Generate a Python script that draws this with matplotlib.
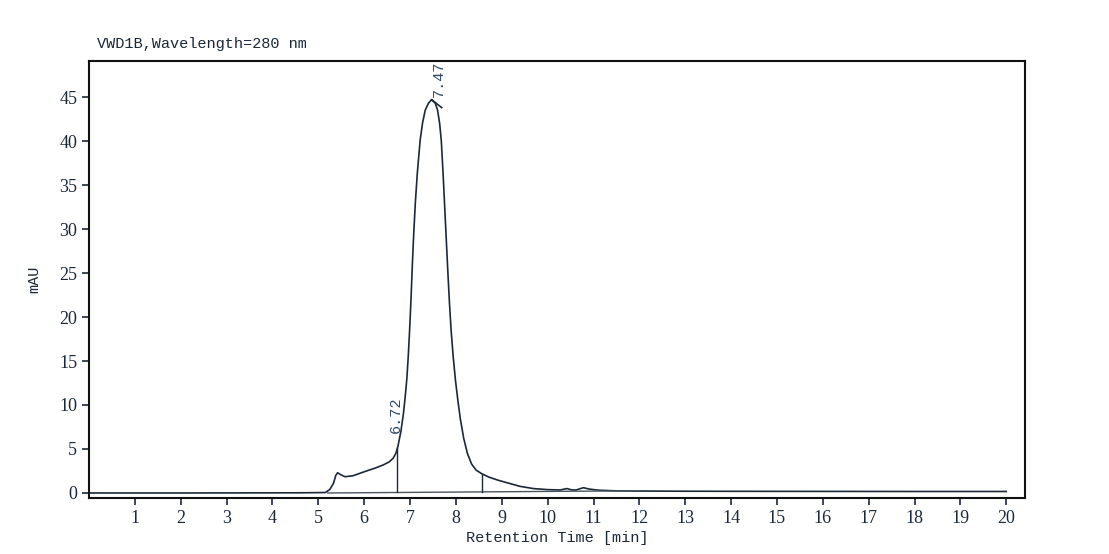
import matplotlib
matplotlib.use("Agg")
import matplotlib.pyplot as plt

# chromatogram trace (min, mAU)
t = [0.0, 2.0, 4.6, 5.15, 5.25, 5.33, 5.38, 5.42, 5.48, 5.58, 5.75, 6.05, 6.25,
     6.42, 6.55, 6.63, 6.69, 6.735, 6.80, 6.855, 6.895, 6.93, 6.96, 6.99,
     7.02, 7.05, 7.08, 7.115, 7.16, 7.22, 7.27, 7.33, 7.40, 7.47, 7.55, 7.60,
     7.645, 7.68, 7.72, 7.755, 7.79, 7.825, 7.86, 7.895, 7.94, 7.99, 8.045,
     8.10, 8.17, 8.25, 8.34, 8.44, 8.56, 8.72, 8.92, 9.11, 9.40, 9.69, 10.00,
     10.27, 10.42, 10.52, 10.62, 10.78, 10.90, 11.10, 11.50, 12.00, 13.00,
     14.00, 16.00, 18.00, 20.00]
mau = [0.0, 0.0, 0.02, 0.05, 0.4, 1.1, 2.0, 2.3, 2.1, 1.85, 1.95, 2.5, 2.85,
       3.2, 3.55, 3.95, 4.5, 5.3, 7.0, 9.0, 11.0, 13.0, 15.5, 18.5,
       22.0, 26.0, 29.5, 33.0, 36.5, 40.1, 42.0, 43.5, 44.3, 44.7, 44.3, 43.5,
       42.0, 40.1, 36.3, 32.5, 28.75, 25.0, 21.5, 18.5, 15.5, 12.8, 10.4,
       8.3, 6.2, 4.5, 3.3, 2.6, 2.2, 1.8, 1.45, 1.17, 0.75, 0.5, 0.38,
       0.34, 0.5, 0.36, 0.34, 0.6, 0.45, 0.32, 0.24, 0.22, 0.2,
       0.19, 0.18, 0.17, 0.17]

# integration baseline and drop lines
base_t = [5.2, 12.0]
base_y = [0.0, 0.25]
drop_t = [6.72, 8.56]
drop_top = [5.1, 2.2]

# peak labels
peak_lbl = ["6.72", "7.47"]
lbl_x = [6.70, 7.63]
lbl_y = [6.8, 45.0]

xticks = list(range(1, 21))
yticks = list(range(0, 50, 5))

ink = "#1b2838"
lblc = "#2f4a66"

fig = plt.figure(figsize=(11.09, 5.54), dpi=100)
ax = fig.add_axes([0.0803, 0.1011, 0.844, 0.7888])

ax.plot(t, mau, color=ink, lw=1.2)
ax.plot(base_t, base_y, color="#4a5560", lw=1.0)
for x, top in zip(drop_t, drop_top):
    b = base_y[0] + (x - base_t[0]) * (base_y[1] - base_y[0]) / (base_t[1] - base_t[0])
    ax.plot([x, x], [b, top], color=ink, lw=1.0)

# little marker at the apex
ax.plot([7.47, 7.69], [44.7, 43.8], color=ink, lw=1.2)

for x, y, s in zip(lbl_x, lbl_y, peak_lbl):
    ax.text(x, y, s, rotation=90, ha="center", va="bottom",
            color=lblc, fontsize=11, family="Liberation Mono")

ax.set_xlim(0, 20.41)
ax.set_ylim(-0.57, 49.1)
ax.set_xticks(xticks)
ax.set_yticks(yticks)
ax.tick_params(direction="out", length=5, width=1.2, colors=ink,
               labelsize=13, labelcolor=ink)
for lab in ax.get_xticklabels() + ax.get_yticklabels():
    lab.set_family("Liberation Serif")
for sp in ax.spines.values():
    sp.set_linewidth(1.5)
    sp.set_color("#111111")

ax.set_xlabel("Retention Time [min]", family="Liberation Mono", fontsize=11,
              color=ink, labelpad=3)
ax.set_ylabel("mAU", family="Liberation Mono", fontsize=11, color=ink,
              labelpad=13)
fig.text(97 / 1109, 1 - 44 / 554, "VWD1B,Wavelength=280 nm",
         family="Liberation Mono", fontsize=11, color=ink, va="center")

fig.savefig("out.png", dpi=100)
